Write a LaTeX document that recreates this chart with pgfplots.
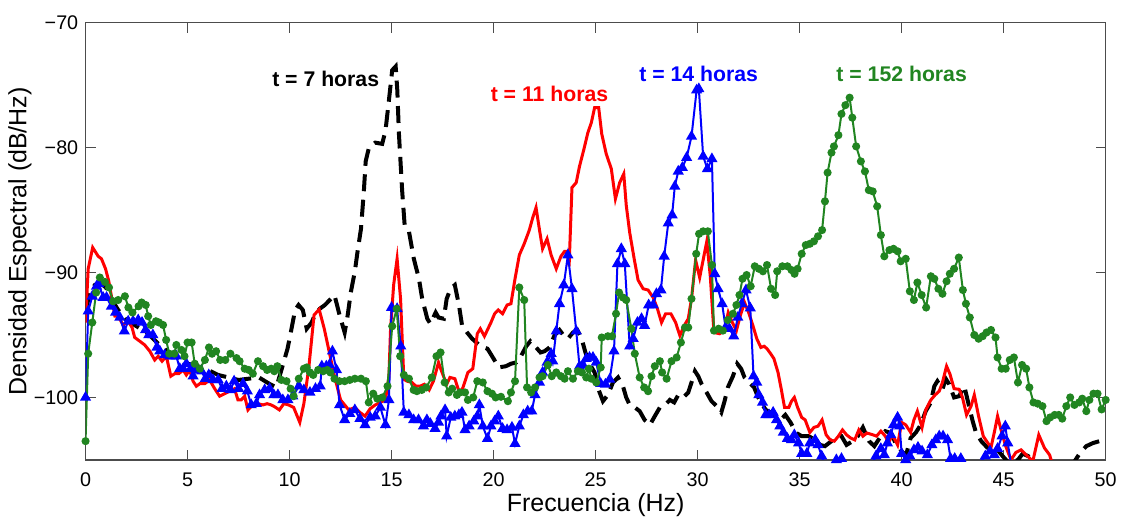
\documentclass[border=0pt]{standalone}
\usepackage{fontspec}
\setmainfont{Liberation Sans}
\usepackage{pgfplots}
\pgfplotsset{compat=1.18}
\definecolor{mgreen}{rgb}{0.13,0.52,0.13}
\definecolor{axgray}{gray}{0.3}
\begin{document}
\begin{tikzpicture}
\begin{axis}[
  width=408.4pt, height=175pt, scale only axis,
  xmin=0, xmax=50, ymin=-105, ymax=-70,
  xtick={0,5,...,50}, ytick={-100,-90,-80,-70},
  yticklabels={−100,−90,−80,−70},
  tick align=inside, major tick length=4pt,
  axis line style={draw=axgray, line width=0.5pt},
  tick style={draw=axgray, line width=0.4pt},
  ticklabel style={font=\fontsize{7.9}{9}\selectfont},
  xticklabel style={/pgf/number format/assume math mode=true, yshift=-1.5pt},
  yticklabel style={xshift=0.6pt},
  xlabel={Frecuencia (Hz)}, ylabel={Densidad Espectral (dB/Hz)},
  label style={font=\fontsize{10}{12}\selectfont},
  xlabel style={yshift=4pt},
  ylabel style={yshift=-6pt},
  clip=true,
]
% t = 7 horas
\addplot[black, line width=1.6pt, dash pattern=on 6.8pt off 3.4pt] coordinates {
(0,-93) (0.2,-91.8) (0.45,-91.0) (0.7,-90.8) (1.0,-91.2) (1.3,-92.2) (1.6,-93.0) (2.0,-93.8) (2.5,-94.3) (3.0,-94.8) (3.5,-95.6) (4.0,-96.3) (4.5,-96.8) (5.0,-97.3) (5.5,-97.5) (6.0,-97.8) (6.5,-98.2) (7.0,-98.4) (7.5,-98.6) (8.0,-98.5) (8.5,-98.4) (9.0,-98.9) (9.35,-99.2) (9.6,-97.8) (9.9,-96.1) (10.06,-94.8) (10.27,-93.0) (10.44,-92.6) (10.65,-93.0) (10.84,-94.5) (11.08,-94.0) (11.24,-93.4) (11.48,-92.9) (11.73,-92.6) (11.97,-92.2) (12.2,-91.8) (12.45,-93.4) (12.7,-94.8) (12.85,-93.4) (13.0,-91.6) (13.2,-89.9) (13.35,-88.1) (13.5,-86.5) (13.64,-83.5) (13.73,-81.1) (13.89,-80.0) (14.2,-79.6) (14.54,-79.7) (14.7,-78.65) (14.87,-76.2) (15.03,-73.8) (15.2,-73.5) (15.28,-75.4) (15.36,-78.9) (15.52,-83.5) (15.64,-86.2) (15.85,-86.7) (16.09,-88.9) (16.34,-90.5) (16.5,-92.1) (16.75,-93.7) (16.9,-94.1) (17.16,-93.2) (17.3,-93.6) (17.56,-93.7) (17.7,-92.1) (17.89,-91.3) (18.1,-91.0) (18.3,-92.6) (18.45,-94.2) (18.7,-94.8) (18.95,-95.3) (19.36,-95.9) (19.7,-96.1) (20.0,-96.9) (20.25,-97.6) (20.6,-97.5) (20.85,-97.3) (21.1,-97.2) (21.34,-96.7) (21.6,-95.9) (21.8,-95.5) (22.03,-95.9) (22.3,-96.4) (22.5,-96.3) (22.74,-96.0) (22.98,-95.05) (23.23,-94.6) (23.44,-95.05) (23.64,-95.3) (23.89,-94.8) (24.1,-94.6) (24.3,-95.2) (24.5,-96.4) (24.7,-97.3) (24.95,-98.0) (25.15,-99.4) (25.36,-100.3) (25.6,-99.8) (25.85,-98.8) (26.1,-98.4) (26.34,-99.1) (26.5,-100.0) (26.67,-100.6) (26.92,-100.8) (27.16,-101.1) (27.4,-101.8) (27.66,-102.2) (27.9,-101.5) (28.15,-100.8) (28.4,-100.6) (28.64,-100.2) (28.85,-100.4) (29.05,-99.8) (29.3,-100.0) (29.54,-99.6) (29.7,-98.8) (29.87,-97.9) (30.03,-98.3) (30.2,-98.95) (30.44,-99.6) (30.68,-100.3) (31.0,-100.8) (31.16,-101.2) (31.32,-100.3) (31.48,-99.2) (31.73,-98.3) (31.94,-97.3) (32.13,-97.7) (32.3,-98.4) (32.53,-98.8) (32.77,-99.2) (32.94,-99.9) (33.1,-100.4) (33.34,-101.0) (33.58,-101.2) (33.82,-101.5) (34.06,-101.8) (34.3,-101.4) (34.55,-102.0) (34.84,-102.85) (35.1,-103.1) (35.44,-103.1) (35.76,-103.4) (36.0,-103.8) (36.24,-103.9) (36.56,-103.5) (36.8,-103.1) (37.05,-103.1) (37.3,-103.8) (37.6,-103.5) (37.85,-103.1) (38.1,-102.4) (38.4,-103.5) (38.66,-103.9) (38.98,-103.1) (39.2,-102.7) (39.47,-102.85) (39.7,-103.65) (40.0,-104.3) (40.2,-104.7) (40.44,-103.25) (40.7,-102.8) (40.93,-102.2) (41.18,-101.1) (41.43,-100.4) (41.6,-99.1) (41.75,-98.7) (42.0,-99.35) (42.16,-98.5) (42.33,-98.95) (42.57,-100.0) (42.82,-99.9) (43.07,-99.1) (43.23,-100.2) (43.48,-101.9) (43.64,-102.8) (43.9,-103.5) (44.13,-103.9) (44.38,-104.3) (44.62,-104.05) (44.95,-104.7) (45.28,-105.3) (45.7,-105.0) (45.93,-104.5) (46.2,-104.7) (46.43,-105.3) (46.75,-105.4) (47.2,-106.5) (47.8,-106.8) (48.4,-105.3) (48.72,-104.5) (49.05,-103.9) (49.38,-103.65) (49.7,-103.5) (50.0,-103.5)
};
% t = 11 horas
\addplot[red, line width=1.2pt] coordinates {
(0,-94) (0.13,-89.7) (0.35,-88.0) (0.62,-88.7) (0.78,-88.9) (0.98,-89.7) (1.14,-90.7) (1.3,-92.2) (1.44,-93.5) (1.6,-93.5) (1.84,-94.2) (2.09,-93.9) (2.28,-94.4) (2.41,-95.2) (2.66,-95.5) (2.9,-95.8) (3.15,-96.3) (3.39,-97.0) (3.56,-96.7) (3.75,-97.1) (3.96,-96.7) (4.18,-98.3) (4.37,-98.1) (4.57,-98.1) (4.78,-97.8) (4.94,-98.2) (5.1,-97.8) (5.27,-98.7) (5.43,-99.1) (5.6,-98.9) (5.84,-98.9) (6.08,-98.6) (6.33,-99.3) (6.57,-99.9) (6.82,-99.7) (7.06,-99.5) (7.3,-99.3) (7.47,-100.2) (7.63,-100.2) (7.8,-99.9) (7.96,-101.0) (8.2,-100.6) (8.45,-100.5) (8.7,-100.6) (8.9,-100.5) (9.1,-100.6) (9.27,-100.75) (9.5,-101.0) (9.72,-100.5) (9.95,-100.6) (10.2,-100.8) (10.5,-102.0) (10.7,-100.5) (10.95,-97.5) (11.2,-93.4) (11.45,-92.95) (11.7,-94.5) (11.95,-96.4) (12.2,-98.3) (12.5,-100.2) (12.9,-101.0) (13.2,-100.8) (13.45,-101.2) (13.7,-101.5) (13.95,-100.9) (14.2,-100.6) (14.45,-100.4) (14.7,-100.2) (14.87,-98.3) (14.95,-94.5) (15.1,-91.0) (15.27,-88.9) (15.44,-92.1) (15.6,-98.55) (15.76,-98.7) (16.0,-98.8) (16.19,-99.1) (16.4,-99.1) (16.6,-98.95) (16.84,-99.4) (17.05,-98.7) (17.3,-97.2) (17.45,-97.9) (17.7,-98.95) (17.86,-98.4) (18.1,-98.5) (18.34,-99.7) (18.5,-99.2) (18.74,-98.0) (18.98,-97.7) (19.2,-94.9) (19.35,-94.5) (19.55,-95.1) (19.87,-94.0) (20.05,-93.3) (20.23,-93.0) (20.44,-93.3) (20.66,-92.6) (20.85,-92.5) (21.05,-90.5) (21.26,-88.6) (21.5,-87.7) (21.75,-86.6) (21.92,-85.6) (22.08,-84.8) (22.25,-86.6) (22.4,-88.1) (22.62,-87.3) (22.82,-88.6) (23.07,-89.7) (23.3,-88.7) (23.48,-88.3) (23.64,-88.3) (23.7,-89.5) (23.84,-83.2) (24.05,-82.8) (24.21,-81.5) (24.43,-80.1) (24.62,-78.8) (24.79,-78.0) (24.95,-76.8) (25.15,-76.8) (25.3,-78.9) (25.52,-80.5) (25.77,-81.7) (25.97,-84.1) (26.18,-82.8) (26.38,-82.1) (26.5,-84.6) (26.67,-86.8) (26.89,-88.9) (27.08,-90.6) (27.33,-91.3) (27.57,-91.4) (27.82,-92.0) (28.03,-92.9) (28.23,-94.0) (28.43,-93.3) (28.69,-93.3) (28.92,-94.0) (29.13,-95.05) (29.34,-94.25) (29.54,-93.7) (29.7,-92.1) (29.9,-89.0) (30.1,-90.4) (30.45,-87.5) (30.62,-90.3) (30.8,-94.8) (31.08,-94.9) (31.3,-94.65) (31.5,-93.2) (31.7,-94.0) (31.9,-94.65) (32.1,-93.4) (32.3,-92.4) (32.5,-93.2) (32.7,-94.2) (32.9,-95.3) (33.1,-96.0) (33.26,-95.9) (33.4,-96.1) (33.58,-96.5) (33.74,-96.9) (33.94,-98.0) (34.1,-99.35) (34.26,-100.8) (34.47,-100.8) (34.6,-100.3) (34.74,-100.0) (34.9,-100.8) (35.1,-101.6) (35.27,-101.8) (35.5,-102.8) (35.7,-102.4) (35.9,-102.3) (36.1,-101.8) (36.3,-103.0) (36.5,-103.4) (36.7,-103.5) (36.9,-103.1) (37.1,-102.6) (37.3,-103.0) (37.5,-103.25) (37.7,-103.4) (37.9,-102.6) (38.1,-103.1) (38.3,-102.85) (38.6,-103.0) (38.77,-103.1) (38.98,-102.7) (39.2,-103.1) (39.35,-103.65) (39.55,-103.0) (39.8,-103.8) (40.0,-102.0) (40.2,-102.2) (40.44,-102.8) (40.6,-101.8) (40.77,-101.1) (41.0,-102.4) (41.18,-101.0) (41.43,-100.2) (41.64,-99.8) (41.84,-99.5) (42.0,-98.8) (42.2,-97.5) (42.36,-98.1) (42.57,-99.3) (42.82,-99.35) (42.98,-100.0) (43.18,-101.4) (43.4,-100.7) (43.56,-99.8) (43.77,-101.5) (44.0,-103.1) (44.16,-103.5) (44.38,-104.0) (44.54,-102.8) (44.7,-101.5) (44.87,-102.6) (45.1,-103.9) (45.36,-105.0) (45.6,-104.4) (45.85,-104.2) (46.1,-104.6) (46.43,-105.1) (46.72,-103.0) (47.0,-104.05) (47.25,-104.6) (47.4,-105.4) (47.6,-106.5)
};
% t = 14 horas
\addplot[blue, line width=0.8pt, mark=triangle*, mark size=1.8pt, mark options={solid, fill=blue}] coordinates {
(0,-100.0) (0.13,-93.1) (0.33,-91.9) (0.54,-91.1) (0.65,-90.9) (0.86,-92.0) (1.03,-92.0) (1.27,-92.7) (1.47,-93.2) (1.68,-93.6) (1.9,-94.7) (2.09,-93.9) (2.33,-93.9) (2.58,-93.8) (2.77,-94.0) (2.94,-94.6) (3.1,-95.0) (3.3,-95.0) (3.5,-96.0) (3.64,-96.3) (3.88,-96.6) (4.13,-96.7) (4.3,-96.7) (4.45,-96.7) (4.62,-97.7) (4.78,-97.7) (4.94,-97.3) (5.15,-97.7) (5.27,-98.3) (5.43,-97.8) (5.68,-97.9) (5.87,-98.5) (6.04,-98.2) (6.25,-98.6) (6.5,-98.6) (6.69,-99.3) (6.9,-99.1) (7.1,-99.4) (7.28,-98.7) (7.5,-99.3) (7.72,-98.9) (7.93,-99.5) (8.12,-100.6) (8.37,-100.5) (8.53,-99.8) (8.78,-99.4) (9.02,-99.3) (9.23,-99.8) (9.43,-99.8) (9.67,-100.2) (9.92,-100.2) (10.16,-99.9) (10.46,-99.1) (10.7,-99.4) (11.0,-99.6) (11.27,-99.3) (11.5,-99.1) (11.58,-97.5) (11.8,-97.5) (11.95,-97.4) (12.1,-96.3) (12.3,-97.8) (12.45,-100.6) (12.7,-101.8) (12.95,-101.3) (13.2,-101.0) (13.45,-101.7) (13.7,-102.2) (13.95,-101.6) (14.2,-101.5) (14.45,-100.8) (14.7,-102.2) (14.87,-100.2) (15.0,-92.8) (15.27,-92.9) (15.45,-95.9) (15.6,-101.2) (15.85,-101.4) (16.08,-101.8) (16.32,-101.8) (16.56,-102.3) (16.73,-101.8) (16.9,-102.1) (17.13,-102.5) (17.3,-102.0) (17.42,-101.5) (17.62,-101.0) (17.7,-103.1) (17.9,-101.6) (18.1,-101.5) (18.3,-101.4) (18.45,-101.2) (18.6,-102.6) (18.8,-102.3) (19.03,-101.9) (19.2,-101.5) (19.3,-100.6) (19.47,-102.3) (19.7,-103.3) (19.87,-102.3) (20.05,-101.9) (20.23,-101.5) (20.44,-102.5) (20.66,-102.6) (20.9,-102.4) (21.05,-103.7) (21.26,-102.3) (21.46,-101.4) (21.67,-101.1) (21.87,-101.1) (22.03,-99.8) (22.25,-98.8) (22.4,-98.0) (22.62,-97.2) (22.82,-96.5) (22.9,-97.1) (23.07,-94.7) (23.23,-92.5) (23.44,-91.0) (23.64,-88.6) (23.84,-91.3) (24.05,-94.7) (24.21,-97.5) (24.38,-97.4) (24.54,-96.9) (24.7,-96.8) (24.87,-96.8) (25.03,-97.2) (25.25,-98.9) (25.48,-98.95) (25.69,-98.55) (25.9,-96.3) (26.07,-89.3) (26.26,-88.1) (26.43,-89.3) (26.67,-95.9) (26.84,-95.3) (27.05,-94.0) (27.25,-93.7) (27.4,-94.25) (27.6,-92.6) (27.82,-92.6) (27.98,-91.7) (28.2,-91.4) (28.36,-88.7) (28.56,-86.05) (28.75,-85.4) (28.88,-83.1) (29.05,-81.9) (29.25,-81.6) (29.46,-80.8) (29.7,-79.1) (29.95,-75.4) (30.06,-75.3) (30.27,-80.7) (30.48,-81.7) (30.7,-80.9) (30.84,-90.1) (31.0,-91.3) (31.2,-92.5) (31.37,-94.4) (31.56,-94.5) (31.77,-95.1) (31.97,-93.6) (32.16,-92.5) (32.37,-91.4) (32.58,-92.85) (32.74,-98.3) (32.9,-98.8) (33.0,-99.8) (33.18,-100.4) (33.34,-101.4) (33.5,-101.4) (33.7,-101.2) (33.87,-101.8) (34.03,-102.3) (34.2,-102.8) (34.4,-103.3) (34.6,-103.4) (34.74,-103.0) (34.95,-103.65) (35.1,-104.5) (35.35,-104.5) (35.5,-103.65) (35.76,-103.4) (35.9,-103.8) (36.08,-104.7) (36.24,-105.4) (36.45,-105.5) (36.8,-105.0) (37.05,-104.9) (37.3,-105.4) (37.6,-105.5) (38.0,-105.3) (38.25,-105.4) (38.55,-105.3) (38.74,-104.7) (38.98,-104.1) (39.15,-104.6) (39.3,-103.65) (39.47,-103.0) (39.6,-102.2) (39.8,-101.6) (39.9,-102.3) (40.0,-104.5) (40.2,-105.0) (40.4,-104.7) (40.6,-104.2) (40.8,-104.0) (41.0,-104.3) (41.26,-104.6) (41.48,-103.8) (41.67,-103.4) (41.84,-103.1) (42.03,-103.1) (42.25,-103.4) (42.4,-104.9) (42.6,-104.9) (42.9,-104.9) (43.07,-105.3) (43.5,-105.4) (43.9,-105.1) (44.1,-104.7) (44.33,-104.3) (44.54,-104.6) (44.7,-104.1) (44.92,-103.1) (45.08,-102.3) (45.2,-103.65) (45.36,-105.3) (45.6,-106.5)
};
% t = 152 horas
\addplot[mgreen, line width=0.8pt, mark=*, mark size=1.2pt, mark options={solid, fill=mgreen}] coordinates {
(0,-103.5) (0.13,-96.5) (0.33,-94.0) (0.52,-91.6) (0.7,-90.4) (0.95,-90.75) (1.15,-91.2) (1.35,-92.3) (1.6,-92.2) (1.93,-91.9) (2.1,-92.8) (2.3,-93.2) (2.6,-92.7) (2.75,-92.4) (2.95,-92.6) (3.07,-93.5) (3.2,-94.2) (3.45,-93.9) (3.6,-94.0) (3.8,-94.2) (3.95,-95.4) (4.1,-96.5) (4.35,-96.5) (4.45,-95.8) (4.7,-96.2) (4.85,-96.7) (5.0,-95.6) (5.2,-95.6) (5.35,-97.3) (5.6,-97.7) (5.85,-97.0) (6.05,-96.0) (6.2,-96.5) (6.4,-96.3) (6.6,-97.0) (6.85,-97.0) (7.1,-96.5) (7.4,-96.85) (7.55,-97.1) (7.8,-97.7) (8.0,-97.8) (8.2,-98.1) (8.45,-97.1) (8.7,-97.5) (8.9,-97.8) (9.1,-97.7) (9.25,-97.9) (9.4,-97.5) (9.6,-98.6) (9.85,-98.7) (10.05,-99.3) (10.2,-99.9) (10.45,-98.5) (10.7,-97.7) (10.84,-97.6) (11.0,-98.0) (11.16,-98.2) (11.4,-97.8) (11.65,-97.9) (11.85,-97.8) (12.0,-98.0) (12.2,-98.5) (12.45,-98.7) (12.7,-98.7) (12.95,-98.6) (13.2,-98.5) (13.5,-98.5) (13.74,-98.7) (13.88,-100.4) (14.1,-99.7) (14.3,-100.1) (14.55,-100.0) (14.8,-99.1) (15.03,-94.3) (15.25,-92.9) (15.42,-96.7) (15.6,-98.2) (15.85,-98.5) (16.08,-99.4) (16.24,-99.5) (16.48,-99.4) (16.7,-99.2) (16.97,-98.4) (17.2,-96.7) (17.4,-96.4) (17.6,-98.8) (17.8,-99.6) (17.97,-99.3) (18.2,-99.8) (18.35,-99.6) (18.6,-99.6) (18.74,-100.2) (19.0,-100.0) (19.2,-98.7) (19.47,-98.8) (19.7,-99.5) (19.92,-99.7) (20.1,-100.0) (20.36,-99.95) (20.7,-100.3) (20.85,-99.6) (21.05,-98.7) (21.26,-91.2) (21.5,-92.2) (21.64,-99.2) (21.84,-99.6) (22.03,-99.2) (22.25,-98.4) (22.4,-98.3) (22.66,-97.4) (22.85,-98.3) (23.07,-98.0) (23.3,-98.3) (23.48,-98.5) (23.64,-97.9) (23.89,-98.5) (24.13,-97.9) (24.33,-98.0) (24.54,-98.4) (24.67,-97.7) (24.79,-98.5) (25.03,-98.8) (25.25,-97.6) (25.3,-95.2) (25.6,-95.1) (25.8,-95.1) (26.0,-93.3) (26.15,-91.6) (26.34,-92.0) (26.5,-92.2) (26.75,-94.5) (26.92,-96.5) (27.16,-98.4) (27.38,-99.2) (27.57,-99.5) (27.74,-98.3) (27.9,-97.5) (28.15,-97.1) (28.26,-98.0) (28.48,-98.5) (28.72,-97.1) (28.97,-96.8) (29.18,-95.6) (29.38,-94.4) (29.54,-94.4) (29.7,-92.1) (29.93,-88.5) (30.07,-86.9) (30.27,-86.7) (30.5,-86.7) (30.7,-89.4) (30.8,-94.65) (31.03,-94.5) (31.24,-94.65) (31.48,-93.8) (31.73,-93.3) (31.9,-92.6) (32.05,-91.8) (32.2,-90.5) (32.4,-90.2) (32.6,-91.1) (32.8,-89.5) (33.0,-89.7) (33.2,-89.9) (33.4,-89.4) (33.6,-91.3) (33.8,-91.8) (33.9,-89.9) (34.15,-89.5) (34.4,-89.5) (34.6,-89.8) (34.75,-90.1) (34.9,-89.7) (35.1,-88.5) (35.3,-87.8) (35.5,-87.7) (35.7,-87.5) (35.9,-87.1) (36.1,-86.6) (36.24,-84.3) (36.37,-82.0) (36.56,-80.4) (36.68,-79.9) (36.9,-79.0) (37.05,-77.3) (37.24,-76.6) (37.45,-76.0) (37.58,-77.6) (37.77,-79.9) (38.0,-81.1) (38.2,-81.9) (38.39,-83.4) (38.58,-83.5) (38.8,-84.7) (38.98,-87.0) (39.15,-88.7) (39.4,-88.2) (39.6,-88.1) (39.8,-88.3) (39.95,-89.1) (40.2,-88.9) (40.4,-91.5) (40.6,-92.2) (40.77,-90.8) (40.98,-91.8) (41.2,-92.8) (41.43,-90.3) (41.6,-90.5) (41.8,-91.3) (42.0,-91.7) (42.2,-90.7) (42.36,-90.1) (42.57,-89.7) (42.8,-88.8) (43.0,-91.4) (43.15,-92.5) (43.34,-93.6) (43.56,-95.0) (43.77,-95.3) (43.97,-95.1) (44.16,-94.8) (44.38,-94.6) (44.6,-95.2) (44.7,-96.8) (44.9,-97.7) (45.1,-97.7) (45.3,-97.0) (45.5,-96.8) (45.7,-98.8) (45.9,-97.4) (46.1,-97.7) (46.26,-99.2) (46.46,-100.4) (46.67,-100.5) (46.9,-100.7) (47.1,-101.9) (47.28,-101.6) (47.5,-101.4) (47.7,-101.4) (47.87,-101.7) (48.07,-100.7) (48.26,-100.0) (48.47,-100.6) (48.7,-100.4) (48.85,-100.1) (49.05,-101.1) (49.2,-100.2) (49.4,-99.7) (49.6,-99.7) (49.8,-100.96) (50.0,-100.2)
};
\node[font=\bfseries\fontsize{8.5}{10}\selectfont, text=black] at (axis cs:11.77,-74.5) {t = 7 horas};
\node[font=\bfseries\fontsize{8.5}{10}\selectfont, text=red] at (axis cs:22.74,-75.7) {t = 11 horas};
\node[font=\bfseries\fontsize{8.5}{10}\selectfont, text=blue] at (axis cs:30.05,-74.1) {t = 14 horas};
\node[font=\bfseries\fontsize{8.5}{10}\selectfont, text=mgreen] at (axis cs:40.0,-74.1) {t = 152 horas};
\end{axis}
\useasboundingbox ([xshift=-33.9pt,yshift=-20pt]current axis.south west) rectangle ([xshift=7.7pt,yshift=9.1pt]current axis.north east);
\end{tikzpicture}
\end{document}
